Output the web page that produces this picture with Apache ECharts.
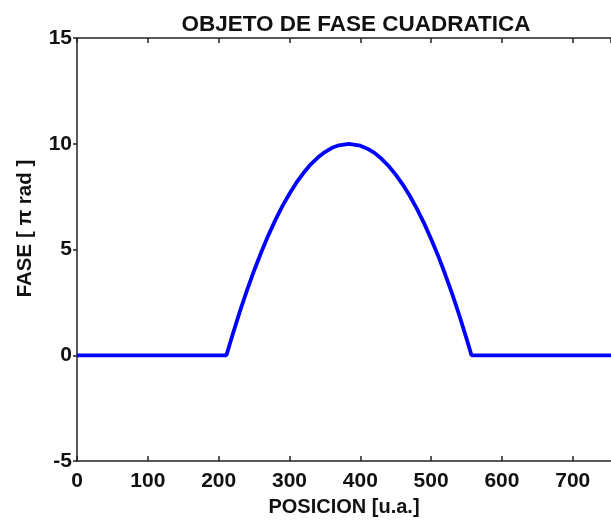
<!DOCTYPE html>
<html>
<head>
<meta charset="utf-8">
<script src="https://cdn.jsdelivr.net/npm/echarts@6/dist/echarts.min.js"></script>
<style>html,body{margin:0;padding:0;background:#fff;}#c{width:611px;height:522px;}</style>
</head>
<body>
<div id="c"></div>
<script>
// Values
var posX  = [0, 100, 211, 220, 230, 240, 250, 260, 270, 280, 290, 300, 310, 320, 330, 340, 350, 360, 370, 384, 400, 410, 420, 430, 440, 450, 460, 470, 480, 490, 500, 510, 520, 530, 540, 550, 557, 650, 768];
var phase = [0, 0, 0, 1.01, 2.08, 3.07, 4.00, 4.86, 5.66, 6.39, 7.05, 7.64, 8.17, 8.63, 9.03, 9.35, 9.61, 9.81, 9.93, 10.0, 9.91, 9.77, 9.57, 9.29, 8.95, 8.54, 8.07, 7.53, 6.92, 6.25, 5.50, 4.70, 3.82, 2.88, 1.87, 0.79, 0, 0, 0];
var xTicks = [0, 100, 200, 300, 400, 500, 600, 700];
var yTicks = [-5, 0, 5, 10, 15];

var titleText = 'OBJETO DE FASE CUADRATICA';
var xName = 'POSICION [u.a.]';
var yName = 'FASE [ \u03c0 rad ]';

var font = '"Liberation Sans", Arial, Helvetica, sans-serif';
var axisColor = '#222';

var chart = echarts.init(document.getElementById('c'), null, {renderer: 'canvas', width: 611, height: 522});
var data = posX.map(function (x, i) { return [x, phase[i]]; });

chart.setOption({
  animation: false,
  backgroundColor: '#fff',
  title: {
    text: titleText,
    left: 351,
    textAlign: 'center',
    top: 8,
    textStyle: {fontFamily: font, fontWeight: 'bold', fontSize: 22.5, color: '#111'}
  },
  grid: {left: 77, right: 0, top: 38, height: 428, containLabel: false},
  xAxis: [{
    type: 'value', min: 0, max: 754, interval: 100, position: 'bottom',
    name: xName, nameLocation: 'middle', nameGap: 27,
    nameTextStyle: {fontFamily: font, fontWeight: 'bold', fontSize: 20, color: '#111'},
    axisLine: {show: true, onZero: false, lineStyle: {color: axisColor, width: 1.5}},
    axisTick: {show: true, inside: true, length: 5, lineStyle: {color: axisColor, width: 1.5}},
    axisLabel: {showMaxLabel: false, margin: 10, fontFamily: font, fontWeight: 'bold', fontSize: 21, color: '#111',
      formatter: function (v) { return xTicks.indexOf(v) >= 0 ? String(v) : ''; }},
    splitLine: {show: false}
  }, {
    type: 'value', min: 0, max: 754, interval: 100, position: 'top',
    axisLine: {show: true, onZero: false, lineStyle: {color: axisColor, width: 1.5}},
    axisTick: {show: true, inside: true, length: 5, lineStyle: {color: axisColor, width: 1.5}},
    axisLabel: {show: false},
    splitLine: {show: false}
  }],
  yAxis: [{
    type: 'value', min: -5, max: 15, interval: 5,
    name: yName, nameLocation: 'middle', nameGap: 41,
    nameTextStyle: {fontFamily: font, fontWeight: 'bold', fontSize: 20.5, color: '#111', padding: [0, 0, 0, 42]},
    axisLine: {show: true, onZero: false, lineStyle: {color: axisColor, width: 1.5}},
    axisTick: {show: true, inside: false, length: 4, lineStyle: {color: axisColor, width: 1.5}},
    axisLabel: {margin: 5, fontFamily: font, fontWeight: 'bold', fontSize: 21, color: '#111',
      formatter: function (v) { return yTicks.indexOf(v) >= 0 ? String(v) : ''; }},
    splitLine: {show: false}
  }],
  series: [{
    type: 'line',
    data: data,
    showSymbol: false,
    smooth: false,
    clip: true,
    lineStyle: {color: '#0000ff', width: 3.8},
    xAxisIndex: 0
  }]
});
</script>
</body>
</html>
